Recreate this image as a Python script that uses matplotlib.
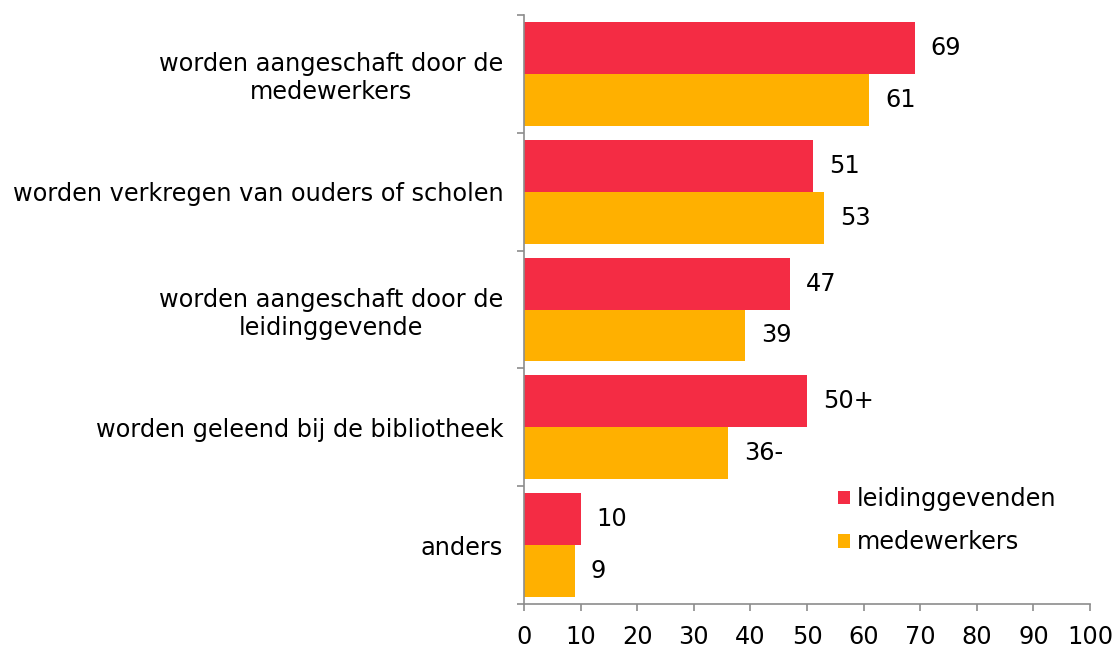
import matplotlib
matplotlib.use("Agg")
import matplotlib.pyplot as plt
import numpy as np

categories = ["worden aangeschaft door de\nmedewerkers",
              "worden verkregen van ouders of scholen",
              "worden aangeschaft door de\nleidinggevende",
              "worden geleend bij de bibliotheek",
              "anders"]
leiding = [69, 51, 47, 50, 10]
medew = [61, 53, 39, 36, 9]
leiding_labels = ["69", "51", "47", "50+", "10"]
medew_labels = ["61", "53", "39", "36-", "9"]
series_names = ["leidinggevenden", "medewerkers"]
xticks = list(range(0, 101, 10))

red = "#F42C44"
orange = "#FFB000"
axcol = "#8C8C8C"

plt.rcParams['font.family'] = ['DejaVu Sans']
fig = plt.figure(figsize=(11.16, 6.47), dpi=100)
ax = fig.add_axes([524/1116, 1-604/647, (1090-524)/1116, (604-15)/647])

n = len(categories)
centers = np.arange(n)
h = 0.44
b1 = ax.barh(centers - h/2, leiding, height=h, color=red, label=series_names[0])
b2 = ax.barh(centers + h/2, medew, height=h, color=orange, label=series_names[1])

fs = 17.3
for bar, lab in zip(b1, leiding_labels):
    ax.annotate(lab, (bar.get_width(), bar.get_y() + bar.get_height()/2),
                xytext=(11.5, 0), textcoords="offset points", va="center", ha="left", fontsize=fs)
for bar, lab in zip(b2, medew_labels):
    ax.annotate(lab, (bar.get_width(), bar.get_y() + bar.get_height()/2),
                xytext=(11.5, 0), textcoords="offset points", va="center", ha="left", fontsize=fs)

ax.set_ylim(n - 0.5, -0.5)
ax.set_xlim(0, 100)
ax.set_yticks(np.arange(n + 1) - 0.5)
ax.set_yticklabels([])
ax.set_yticks(centers, minor=True)
ax.set_yticklabels(categories, minor=True, fontsize=fs, multialignment="center")
ax.tick_params(axis="y", which="minor", length=0, pad=15)
ax.tick_params(axis="y", which="major", length=5, color=axcol, width=1.2)
ax.set_xticks(xticks)
ax.set_xticklabels([str(t) for t in xticks], fontsize=fs)
ax.tick_params(axis="x", length=5, color=axcol, width=1.2, pad=10)

for s in ["top", "right"]:
    ax.spines[s].set_visible(False)
for s in ["left", "bottom"]:
    ax.spines[s].set_color(axcol)
    ax.spines[s].set_linewidth(1.2)

leg = ax.legend(loc="upper left", bbox_to_anchor=(826/1116, 1-475/647), bbox_transform=fig.transFigure,
                frameon=False, fontsize=fs, handlelength=0.5, handleheight=0.5,
                handletextpad=0.3, labelspacing=0.8, borderpad=0)

fig.savefig("out.png", dpi=100)
